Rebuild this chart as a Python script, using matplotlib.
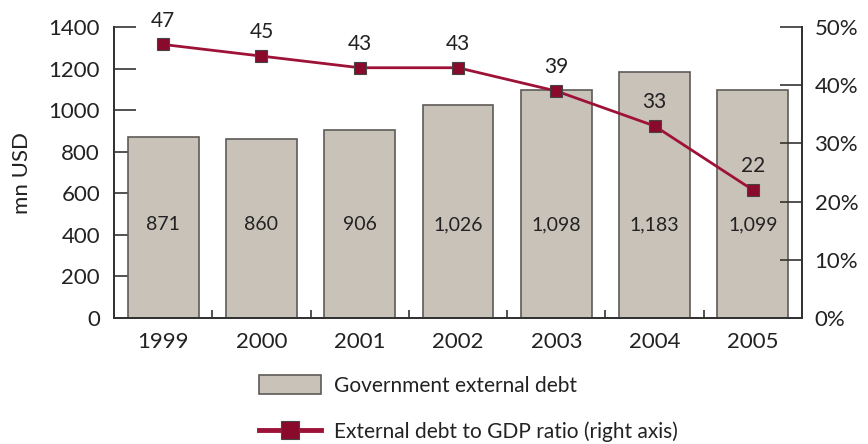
import matplotlib.pyplot as plt
from matplotlib.patches import Patch
from matplotlib.lines import Line2D
import numpy as np

plt.rcParams['font.family'] = ['Lato', 'DejaVu Sans']

years = ['1999', '2000', '2001', '2002', '2003', '2004', '2005']
debt = [871, 860, 906, 1026, 1098, 1183, 1099]
debt_labels = ['871', '860', '906', '1,026', '1,098', '1,183', '1,099']
ratio = [47, 45, 43, 43, 39, 33, 22]

BAR = '#c9c2b9'
BAR_EDGE = '#5e5a56'
LINE = '#9e1238'
MARK = '#8a0a2c'
TXT = '#222222'

fig = plt.figure(figsize=(8.68, 4.44), dpi=100)
ax = fig.add_axes([114 / 868, 126 / 444, 688 / 868, 291 / 444])
ax2 = ax.twinx()

x = np.arange(len(years))
ax.bar(x, debt, width=0.72, color=BAR, edgecolor=BAR_EDGE, linewidth=1.2, zorder=2)
for xi, lab in zip(x, debt_labels):
    ax.text(xi, 450, lab, ha='center', va='center', fontsize=14, color=TXT, zorder=3)

ax.set_xlim(-0.5, len(years) - 0.5)
ax.set_ylim(0, 1400)
ax.set_yticks(range(0, 1401, 200))
ax.set_xticks(x)
ax.set_xticklabels(years)
ax.set_xticks(x[:-1] + 0.5, minor=True)
ax.tick_params(axis='x', which='major', length=0, labelsize=16, pad=10, colors=TXT)
ax.tick_params(axis='x', which='minor', direction='in', length=6, width=1.2, color='#333333')
ax.tick_params(axis='y', direction='in', length=16, width=1.2, labelsize=16, pad=10,
               colors=TXT, color='#333333')
ax.set_ylabel('mn USD', fontsize=16, color=TXT, labelpad=12)

# ratio line on the right-hand percentage axis
ax2.plot(x, ratio, color=LINE, linewidth=2, marker='s', markersize=8,
         markerfacecolor=MARK, markeredgecolor='#444444', markeredgewidth=0.8, zorder=4)
for xi, r in zip(x, ratio):
    ax2.annotate(str(r), (xi, r), xytext=(0, 17), textcoords='offset points',
                 ha='center', va='center', fontsize=15, color=TXT)
ax2.set_ylim(0, 50)
ax2.set_yticks(range(0, 51, 10))
ax2.set_yticklabels([f'{v}%' for v in range(0, 51, 10)])
ax2.tick_params(axis='y', direction='in', length=16, width=1.2, labelsize=16, pad=9,
                colors=TXT, color='#333333')

for a in (ax, ax2):
    a.spines['top'].set_visible(False)
    for s in ('left', 'right', 'bottom'):
        a.spines[s].set_linewidth(1.4)
        a.spines[s].set_color('#333333')

handles = [
    Patch(facecolor=BAR, edgecolor=BAR_EDGE, linewidth=1.2, label='Government external debt'),
    Line2D([], [], color=LINE, linewidth=3.5, marker='s', markersize=13,
           markerfacecolor=MARK, markeredgecolor='#444444', markeredgewidth=0.8,
           label='External debt to GDP ratio (right axis)'),
]
fig.legend(handles=handles, loc='upper left', bbox_to_anchor=(240 / 868, 1 - 356 / 444),
           frameon=False, fontsize=15, handlelength=3.0, handleheight=1.05,
           labelspacing=1.25, handletextpad=0.6, labelcolor=TXT)

fig.savefig('out.png', dpi=100)
